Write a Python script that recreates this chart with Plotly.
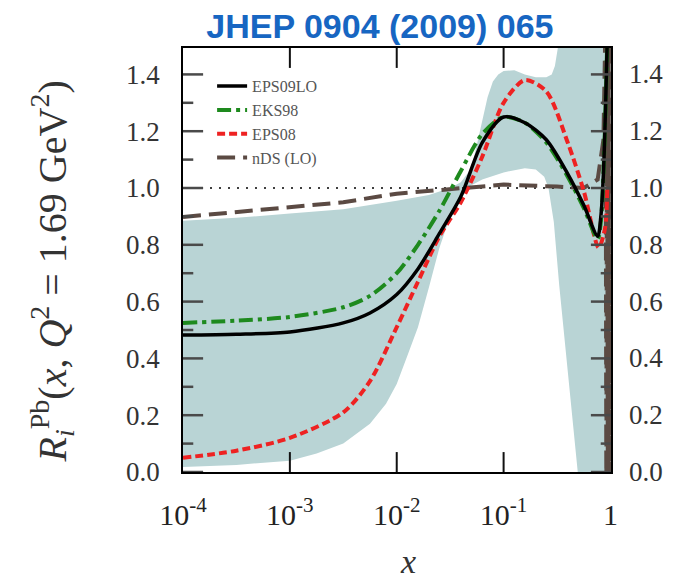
import plotly.graph_objects as go

# Pb nuclear modification R_i^Pb(x, Q^2 = 1.69 GeV^2) for several nPDF sets

# EPS09LO and EKS98 share one x grid
x_main = [1e-4, 3.16e-4, 1e-3, 3.16e-3, 5.62e-3, 1e-2, 1.58e-2, 2.51e-2, 3.98e-2,
          6.31e-2, 0.1, 0.158, 0.251, 0.398, 0.562, 0.759, 0.813, 0.859, 0.902, 0.944]
eps09lo = [0.482, 0.485, 0.493, 0.525, 0.56, 0.625, 0.715, 0.84, 0.97,
           1.16, 1.25, 1.23, 1.17, 1.05, 0.94, 0.83, 0.90, 1.05, 1.30, 1.60]
eks98 = [0.525, 0.533, 0.546, 0.58, 0.62, 0.70, 0.80, 0.92, 1.06,
         1.19, 1.25, 1.23, 1.16, 1.04, 0.93, 0.82, 0.88, 1.05, 1.30, 1.60]

x_eps08 = [1e-4, 3.16e-4, 1e-3, 3.16e-3, 5.62e-3, 1e-2, 1.58e-2, 2.51e-2, 3.98e-2,
           6.31e-2, 0.1, 0.158, 0.251, 0.398, 0.562, 0.776, 0.891, 0.933]
eps08 = [0.05, 0.075, 0.12, 0.21, 0.32, 0.51, 0.67, 0.83, 0.95,
         1.11, 1.30, 1.38, 1.34, 1.16, 0.99, 0.79, 0.86, 1.0]

x_nds = [1e-4, 3.16e-4, 1e-3, 3.16e-3, 1e-2, 3.16e-2, 0.1, 0.316, 0.562, 0.759,
         0.859, 0.90, 0.915, 0.93, 0.945, 0.96, 0.975, 0.99]
nds_lo = [0.898, 0.915, 0.933, 0.95, 0.98, 0.997, 1.012, 1.005, 1.0, 1.03,
          1.17, 1.6, -0.1, 1.6, -0.1, 1.6, -0.1, 1.6]

# EPS09 uncertainty band: upper and lower edges
band_up_x = [1e-4, 3.16e-4, 1e-3, 3.16e-3, 1e-2, 2e-2, 3.16e-2, 3.98e-2, 5.01e-2, 5.62e-2,
             6.31e-2, 7.08e-2, 7.94e-2, 8.91e-2, 0.1, 0.126, 0.158, 0.2, 0.251, 0.282,
             0.302, 0.324, 0.347, 1.0]
band_up = [0.885, 0.895, 0.91, 0.925, 0.955, 0.975, 1.0, 1.02, 1.07, 1.15,
           1.24, 1.32, 1.375, 1.40, 1.412, 1.415, 1.40, 1.39, 1.39, 1.40,
           1.43, 1.5, 1.6, 1.6]
band_lo_x = [1e-4, 3.16e-4, 1e-3, 1.78e-3, 3.16e-3, 5.62e-3, 7.94e-3, 1e-2, 1.26e-2, 1.58e-2,
             2e-2, 2.51e-2, 3.16e-2, 3.98e-2, 5.01e-2, 6.31e-2, 0.1, 0.158, 0.2, 0.24,
             0.263, 0.295, 0.331, 0.372, 0.427, 0.49, 0.525, 1.0]
band_lo = [0.018, 0.025, 0.04, 0.065, 0.10, 0.17, 0.24, 0.31, 0.41, 0.51,
           0.65, 0.79, 0.90, 0.97, 1.01, 1.03, 1.055, 1.07, 1.065, 1.04,
           1.0, 0.88, 0.66, 0.46, 0.22, 0.0, -0.1, -0.1]

x_ticks = [1e-4, 1e-3, 1e-2, 1e-1, 1]
x_tick_labels = ["10<sup>-4</sup>", "10<sup>-3</sup>", "10<sup>-2</sup>", "10<sup>-1</sup>", "1"]
y_ticks = [0.0, 0.2, 0.4, 0.6, 0.8, 1.0, 1.2, 1.4]
y_minor_ticks = [0.1, 0.3, 0.5, 0.7, 0.9, 1.1, 1.3]
unity = [1.0, 1.0]
unity_x = [1e-4, 1.0]

Y_MAX = 1.493
SERIF = "Liberation Serif, Times New Roman, serif"
MAJOR_LEN = 0.047   # tick length as a fraction of the plot width / height
MINOR_LEN = 0.024

fig = go.Figure()

fig.add_trace(go.Scatter(
    x=band_lo_x, y=band_lo, mode="lines", line=dict(width=0),
    showlegend=False, hoverinfo="skip"))
fig.add_trace(go.Scatter(
    x=band_up_x, y=band_up, mode="lines", line=dict(width=0),
    fill="tonexty", fillcolor="#b9d4d5",
    showlegend=False, hoverinfo="skip"))

fig.add_trace(go.Scatter(
    x=unity_x, y=unity, mode="lines",
    line=dict(color="black", width=1.5, dash="2px,7px"),
    showlegend=False, hoverinfo="skip"))

fig.add_trace(go.Scatter(
    x=x_nds, y=nds_lo, mode="lines", name="nDS (LO)",
    line=dict(color="#5b4a43", width=4, dash="18px,8px")))

fig.add_trace(go.Scatter(
    x=x_eps08, y=eps08, mode="lines", name="EPS08",
    line=dict(color="#ee2222", width=4, dash="8px,4px", shape="spline", smoothing=0.8)))

fig.add_trace(go.Scatter(
    x=x_main, y=eks98, mode="lines", name="EKS98",
    line=dict(color="#1e8a1e", width=4, dash="14px,5px,4px,5px", shape="spline", smoothing=0.8)))

fig.add_trace(go.Scatter(
    x=x_main, y=eps09lo, mode="lines", name="EPS09LO",
    line=dict(color="black", width=3.5, shape="spline", smoothing=0.8)))

# inward tick marks on all four sides of the frame
tick_shapes = []
for vals, length in ((y_ticks, MAJOR_LEN), (y_minor_ticks, MINOR_LEN)):
    for v in vals:
        for x0, x1 in ((0, length), (1 - length, 1)):
            tick_shapes.append(dict(type="line", xref="x domain", yref="y", x0=x0, x1=x1, y0=v, y1=v,
                                    line=dict(color="#4a4a4a", width=2.5), layer="above"))
for v in x_ticks[1:-1]:
    for y0, y1 in ((0, MAJOR_LEN), (1 - MAJOR_LEN, 1)):
        tick_shapes.append(dict(type="line", xref="x", yref="y domain", x0=v, x1=v, y0=y0, y1=y1,
                                line=dict(color="#111", width=2), layer="above"))

# tick labels repeated on the right-hand frame
right_labels = [
    dict(text=f"{v:.1f}", xref="paper", yref="y", x=1.0, y=v, xanchor="left", yanchor="middle",
         xshift=16, showarrow=False, font=dict(family=SERIF, size=27, color="#333"))
    for v in y_ticks
]

fig.update_layout(
    width=692, height=579,
    margin=dict(l=183, r=81, t=48, b=107),
    paper_bgcolor="white", plot_bgcolor="white",
    title=dict(text="<b>JHEP 0904 (2009) 065</b>", x=0.549, xref="container", xanchor="center",
               y=0.955, yref="container", yanchor="middle",
               font=dict(family="Liberation Sans, Arial, sans-serif", size=34, color="#1766c2")),
    legend=dict(x=0.068, y=0.95, xanchor="left", yanchor="top", bgcolor="rgba(0,0,0,0)",
                traceorder="reversed", itemwidth=30, tracegroupgap=0,
                font=dict(family=SERIF, size=16, color="#555")),
    xaxis=dict(type="log", range=[-4, 0.005], tickvals=x_ticks, ticktext=x_tick_labels,
               ticks="", showline=True, linecolor="black", linewidth=1.5, mirror=True,
               showgrid=False, zeroline=False, ticklabelstandoff=15,
               tickfont=dict(family=SERIF, size=30, color="#222")),
    yaxis=dict(range=[0, Y_MAX], tickvals=y_ticks, tickformat=".1f",
               ticks="", showline=True, linecolor="black", linewidth=1.5, mirror=True,
               showgrid=False, zeroline=False, ticklabelstandoff=16,
               tickfont=dict(family=SERIF, size=27, color="#333")),
    shapes=tick_shapes,
    annotations=right_labels + [
        dict(text="<i>R</i><sub><i>i</i></sub><sup>Pb</sup>(<i>x</i>, <i>Q</i><sup>2</sup> = 1.69 GeV<sup>2</sup>)",
             xref="paper", yref="paper", x=-0.307, y=0.472, xanchor="center", yanchor="middle",
             textangle=-90, showarrow=False, font=dict(family=SERIF, size=40, color="#333")),
        dict(text="<i>x</i>", xref="paper", yref="paper", x=0.526, y=-0.212,
             xanchor="center", yanchor="middle", showarrow=False,
             font=dict(family=SERIF, size=34, color="#333")),
    ],
)

fig.write_html("out.html")
